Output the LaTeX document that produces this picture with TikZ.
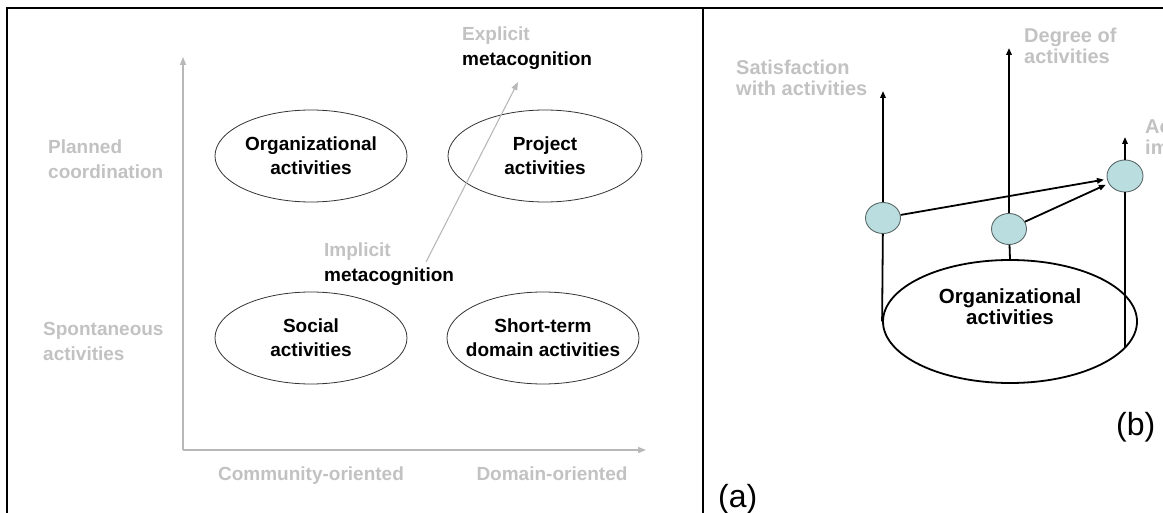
\documentclass[tikz,border=0pt]{standalone}
\usepackage{fontspec}
\setmainfont{Liberation Sans}
\usetikzlibrary{arrows.meta,shapes.geometric}
\definecolor{lgray}{HTML}{C2C2C2}
\definecolor{axgray}{HTML}{B8B8B8}
\definecolor{bubble}{HTML}{BADDE0}
\definecolor{bubbleline}{HTML}{5A6868}
\tikzset{
  frame/.style={line width=1.4pt, black},
  axis/.style={line width=1.3pt, axgray, -{Triangle[length=8pt,width=6pt]}},
  quad/.style={draw=black!80, line width=0.8pt, ellipse, minimum width=192pt, minimum height=92pt, inner sep=0pt},
  qtext/.style={font=\fontsize{19}{24}\selectfont\bfseries, align=center, inner sep=0pt, text=black},
  glabel/.style={font=\fontsize{19}{25}\selectfont\bfseries, align=left, inner sep=0pt, anchor=north west, text=lgray},
  rlabel/.style={font=\fontsize{20}{21}\selectfont\bfseries, align=left, inner sep=0pt, anchor=north west, text=lgray},
  bub/.style={ellipse, draw=bubbleline, line width=0.9pt, fill=bubble, minimum width=35pt, minimum height=31pt, inner sep=0pt},
  stem/.style={line width=1.8pt, black},
  up/.style={line width=1.8pt, black, -{Triangle[length=7pt,width=5.5pt]}},
  inf/.style={line width=1.8pt, black, -{Triangle[length=7pt,width=5.5pt]}, shorten >=3pt},
  tag/.style={font=\fontsize{32}{36}\selectfont, inner sep=0pt, anchor=base west}
}
\begin{document}
\begin{tikzpicture}[x=1pt,y=-1pt]
\useasboundingbox (0,0) rectangle (1163,513);
% frame
\coordinate (fbl) at (7,513);
\coordinate (ftl) at (7,8);
\coordinate (ftr) at (1163,8);
\coordinate (dtop) at (703,8);
\coordinate (dbot) at (703,513);
\draw[frame] (fbl) -- (ftl) -- (ftr);
\draw[frame] (dtop) -- (dbot);

% ---------- panel (a) ----------
\coordinate (org) at (183,450);
\coordinate (ytip) at (183,57);
\coordinate (xtip) at (646,450);
\draw[axis] (org) -- (ytip);
\draw[axis] (org) -- (xtip);

\node[quad] (oa) at (311,156) {};
\node[qtext] at (oa.center) {Organizational\\activities};
\node[quad, minimum width=194pt] (pa) at (545,156) {};
\node[qtext] at (pa.center) {Project\\activities};
\node[quad] (sa) at (311,338) {};
\node[qtext] at (sa.center) {Social\\activities};
\node[quad] (da) at (543,338) {};
\node[qtext] at (da.center) {Short-term\\domain activities};

\coordinate (mstart) at (426,262);
\coordinate (mend) at (518,82);
\draw[axis, line width=1.1pt] (mstart) -- (mend);

\node[glabel] (pc) at (48,140) {Planned\\coordination};
\node[glabel] (sp) at (43,322) {Spontaneous\\activities};
\node[glabel] (em) at (462,27) {Explicit\\\textcolor{black}{metacognition}};
\node[glabel] (im) at (324,243) {Implicit\\\textcolor{black}{metacognition}};
\node[font=\fontsize{19}{24}\selectfont\bfseries, text=lgray, inner sep=0pt, anchor=base] (co) at (311,480) {Community-oriented};
\node[font=\fontsize{19}{24}\selectfont\bfseries, text=lgray, inner sep=0pt, anchor=base] (dom) at (552,480) {Domain-oriented};
\node[tag] (ta) at (718,507) {(a)};

% ---------- panel (b) ----------
\node[ellipse, draw=black, line width=1.8pt, minimum width=254pt, minimum height=123pt, inner sep=0pt] (big) at (1010,321.5) {};
\node[font=\fontsize{20.5}{21}\selectfont\bfseries, align=center, inner sep=0pt] (bigt) at (1010,306.5) {Organizational\\activities};

\node[bub] (c1) at (883,218) {};
\node[bub] (c2) at (1009,229) {};
\node[bub, minimum width=36pt, minimum height=32pt] (c3) at (1125,176) {};

\coordinate (t1) at (883,91);
\coordinate (t2) at (1009,48);
\coordinate (t3) at (1125,137);
\coordinate (e3) at (1125,347);

\draw[stem] (big.west) -- (c1);
\draw[stem] (big.north) -- (c2);
\draw[stem] (e3) -- (c3);
\draw[up] (c1) -- (t1);
\draw[up] (c2) -- (t2);
\draw[up] (c3) -- (t3);
\draw[inf] (c1) -- (c3);
\draw[inf] (c2) -- (c3);

\node[rlabel] (sat) at (736,60) {Satisfaction\\with activities};
\node[rlabel] (deg) at (1024,28) {Degree of\\activities};
\node[rlabel] (act) at (1145,120) {Ac\\im};
\node[tag] (tb) at (1116,435) {(b)};
\end{tikzpicture}
\end{document}
